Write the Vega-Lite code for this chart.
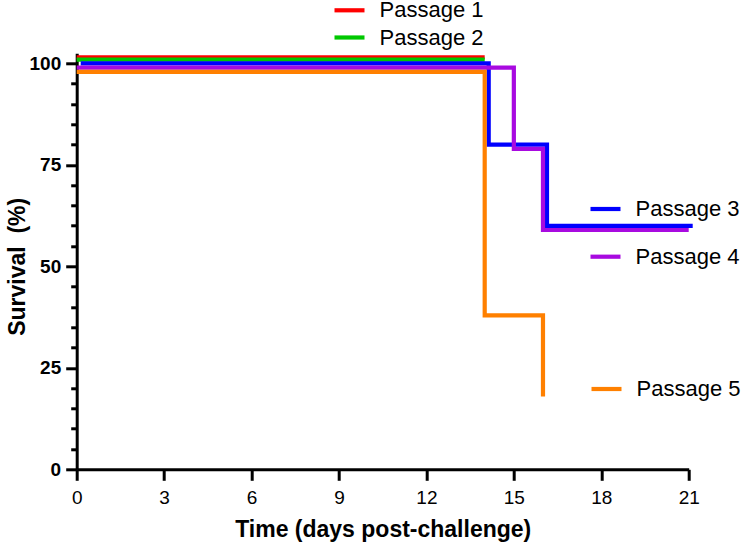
{
  "$schema": "https://vega.github.io/schema/vega-lite/v6.json",
  "width": 612,
  "height": 416,
  "autosize": "none",
  "padding": {"left": 76.7, "top": 53.3, "right": 55.3, "bottom": 73.7},
  "background": "white",
  "config": {
    "view": {"stroke": null},
    "font": "Liberation Sans",
    "axis": {
      "grid": false,
      "domainColor": "black",
      "domainWidth": 3,
      "tickColor": "black",
      "tickWidth": 3,
      "tickSize": 11,
      "labelFont": "Liberation Sans",
      "labelFontSize": 19,
      "labelColor": "black",
      "labelFlush": false,
      "labelOverlap": false,
      "titleFont": "Liberation Sans",
      "titleFontSize": 23,
      "titleFontWeight": "bold",
      "titleColor": "black"
    },
    "axisX": {"labelPadding": 8.5},
    "axisY": {"labelFontWeight": "bold", "labelPadding": 5}
  },
  "data": {
    "values": [
      {"passage": "Passage 1", "day": 0, "survival": 100},
      {"passage": "Passage 1", "day": 14, "survival": 100},
      {"passage": "Passage 2", "day": 0, "survival": 100},
      {"passage": "Passage 2", "day": 14, "survival": 100},
      {"passage": "Passage 3", "day": 0, "survival": 100},
      {"passage": "Passage 3", "day": 14, "survival": 80},
      {"passage": "Passage 3", "day": 16, "survival": 60},
      {"passage": "Passage 3", "day": 21, "survival": 60},
      {"passage": "Passage 4", "day": 0, "survival": 100},
      {"passage": "Passage 4", "day": 15, "survival": 80},
      {"passage": "Passage 4", "day": 16, "survival": 60},
      {"passage": "Passage 4", "day": 21, "survival": 60},
      {"passage": "Passage 5", "day": 0, "survival": 100},
      {"passage": "Passage 5", "day": 14, "survival": 40},
      {"passage": "Passage 5", "day": 16, "survival": 20}
    ]
  },
  "encoding": {
    "x": {
      "field": "day",
      "type": "quantitative",
      "scale": {"domain": [0, 21], "nice": false},
      "axis": {
        "title": "Time (days post-challenge)",
        "values": [0, 3, 6, 9, 12, 15, 18, 21],
        "titleBaseline": "alphabetic",
        "titleX": 306,
        "titleY": 66.7
      }
    }
  },
  "layer": [
    {
      "transform": [{"filter": "datum.passage === 'Passage 1'"}],
      "mark": {"type": "line", "interpolate": "step-after", "strokeWidth": 4.2, "yOffset": -6},
      "encoding": {
        "y": {
          "field": "survival", "type": "quantitative",
          "scale": {"domain": [0, 102.5], "nice": false},
          "axis": {
            "orient": "left",
            "title": "Survival\u00a0 (%)",
            "values": [0, 25, 50, 75, 100],
            "titleAngle": 270,
            "titleAlign": "center",
            "titleBaseline": "middle",
            "titleX": -59,
            "titleY": 213
          }
        },
        "color": {
          "field": "passage", "type": "nominal",
          "scale": {"domain": ["Passage 1"], "range": ["#ff0000"]},
          "legend": {"orient": "none", "legendX": 255.3, "legendY": -60.5, "title": null, "symbolType": "stroke", "symbolSize": 900, "symbolStrokeWidth": 4.2, "labelFont": "Liberation Sans", "labelFontSize": 22, "labelColor": "black", "labelOffset": 12.5, "padding": 0}
        }
      }
    },
    {
      "transform": [{"filter": "datum.passage === 'Passage 2'"}],
      "mark": {"type": "line", "interpolate": "step-after", "strokeWidth": 4.2, "yOffset": -3.8},
      "encoding": {
        "y": {
          "field": "survival", "type": "quantitative",
          "axis": {
            "orient": "left",
            "title": null,
            "values": [5, 10, 15, 20, 30, 35, 40, 45, 55, 60, 65, 70, 80, 85, 90, 95],
            "labels": false,
            "domain": false,
            "tickSize": 6
          }
        },
        "color": {
          "field": "passage", "type": "nominal",
          "scale": {"domain": ["Passage 2"], "range": ["#00c800"]},
          "legend": {"orient": "none", "legendX": 255.3, "legendY": -33.3, "title": null, "symbolType": "stroke", "symbolSize": 900, "symbolStrokeWidth": 4.2, "labelFont": "Liberation Sans", "labelFontSize": 22, "labelColor": "black", "labelOffset": 12.5, "padding": 0}
        }
      }
    },
    {
      "transform": [{"filter": "datum.passage === 'Passage 3'"}],
      "mark": {"type": "line", "interpolate": "step-after", "strokeWidth": 4.2, "xOffset": 4},
      "encoding": {
        "y": {"field": "survival", "type": "quantitative", "axis": null},
        "color": {
          "field": "passage", "type": "nominal",
          "scale": {"domain": ["Passage 3"], "range": ["#0000ff"]},
          "legend": {"orient": "none", "legendX": 511.3, "legendY": 138.2, "title": null, "symbolType": "stroke", "symbolSize": 900, "symbolStrokeWidth": 4.2, "labelFont": "Liberation Sans", "labelFontSize": 22, "labelColor": "black", "labelOffset": 12.5, "padding": 0}
        }
      }
    },
    {
      "transform": [{"filter": "datum.passage === 'Passage 4'"}],
      "mark": {"type": "line", "interpolate": "step-after", "strokeWidth": 4.2, "yOffset": 4.2},
      "encoding": {
        "y": {"field": "survival", "type": "quantitative", "axis": null},
        "color": {
          "field": "passage", "type": "nominal",
          "scale": {"domain": ["Passage 4"], "range": ["#a80ae0"]},
          "legend": {"orient": "none", "legendX": 511.3, "legendY": 185.9, "title": null, "symbolType": "stroke", "symbolSize": 900, "symbolStrokeWidth": 4.2, "labelFont": "Liberation Sans", "labelFontSize": 22, "labelColor": "black", "labelOffset": 12.5, "padding": 0}
        }
      }
    },
    {
      "transform": [{"filter": "datum.passage === 'Passage 5'"}],
      "mark": {"type": "line", "interpolate": "step-after", "strokeWidth": 4.2, "yOffset": 8.4},
      "encoding": {
        "y": {"field": "survival", "type": "quantitative", "axis": null},
        "color": {
          "field": "passage", "type": "nominal",
          "scale": {"domain": ["Passage 5"], "range": ["#ff8000"]},
          "legend": {"orient": "none", "legendX": 512.3, "legendY": 318.2, "title": null, "symbolType": "stroke", "symbolSize": 900, "symbolStrokeWidth": 4.2, "labelFont": "Liberation Sans", "labelFontSize": 22, "labelColor": "black", "labelOffset": 12.5, "padding": 0}
        }
      }
    }
  ],
  "resolve": {"scale": {"color": "independent", "y": "shared"}, "axis": {"y": "independent"}}
}
